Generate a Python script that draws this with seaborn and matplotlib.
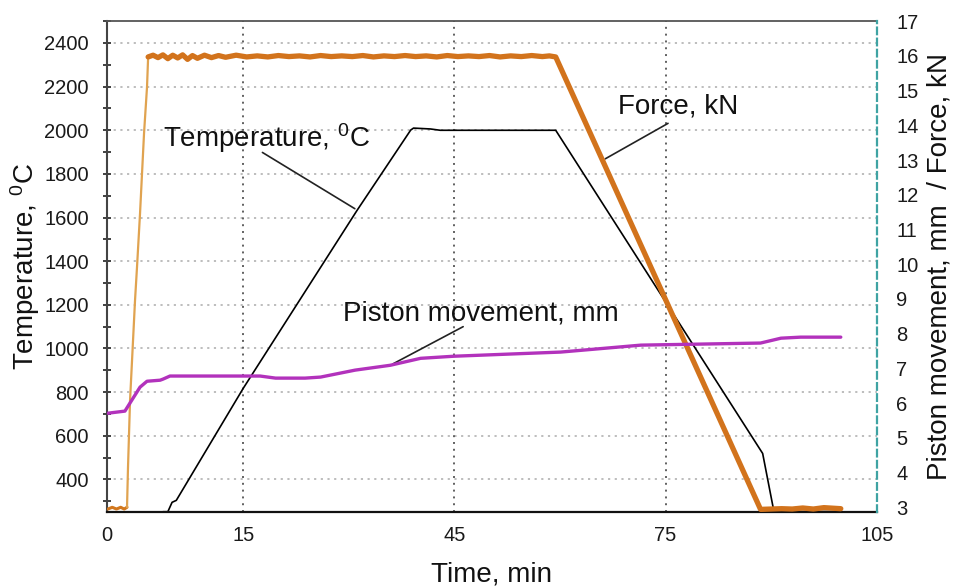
import matplotlib
matplotlib.use("Agg")
import matplotlib.pyplot as plt
from matplotlib.ticker import MultipleLocator
import seaborn as sns
import pandas as pd

# ---------------- data ----------------
# Temperature, degC (left axis)
temp_t = [3.6, 4.3, 4.9, 5.5, 15.0, 31.2, 38.8, 39.2, 41.6, 43.0, 59.4, 88.8, 90.4, 99.9]
temp_v = [252, 252, 295, 304, 817, 1634, 2001, 2010, 2006, 2000, 2000, 519, 253, 253]

# Force, kN (right axis)
force_start_t = [-4.2, -3.6, -3.0, -2.4, -1.9, -1.5]
force_start_v = [2.95, 3.0, 2.95, 3.0, 2.95, 3.0]
force_rise_t = [-1.5, -1.36, -1.07, -0.36, -0.08, 0.35, 0.92, 1.34, 1.5]
force_rise_v = [3.0, 4.15, 6.08, 8.97, 9.92, 11.47, 13.78, 15.1, 15.97]
force_main_t = [1.5, 2.2, 2.9, 3.6, 4.3, 5.0, 5.7, 6.4, 7.1, 7.8, 8.5, 9.5, 10.5, 11.5,
                12.5, 14.0, 15.5, 17.0, 18.5, 20.0, 21.5, 23.0, 24.5, 26.0, 27.5, 29.0,
                30.5, 32.0, 33.5, 35.0, 36.5, 38.0, 39.5, 41.0, 42.5, 44.0, 45.5, 47.0,
                48.5, 50.0, 51.5, 53.0, 54.5, 56.0, 57.5, 58.5, 59.4,
                88.5, 90.0, 91.5, 93.0, 94.5, 96.0, 97.5, 99.9]
force_main_v = [15.97, 16.02, 15.95, 16.03, 15.92, 16.02, 15.94, 16.03, 15.9, 16.01, 15.93,
                16.02, 15.95, 16.01, 15.96, 16.02, 15.97, 16.0, 15.97, 16.01, 15.98, 16.0,
                15.97, 16.01, 15.98, 16.0, 15.98, 16.01, 15.97, 16.0, 15.98, 16.01, 15.98,
                16.0, 15.97, 16.01, 15.98, 16.0, 15.98, 16.01, 15.97, 16.0, 15.98, 16.01,
                15.98, 16.0, 15.97,
                2.94, 2.95, 2.96, 2.95, 2.98, 2.95, 2.99, 2.96]

# Piston movement, mm (right axis)
piston_t = [-4.2, -1.8, -0.65, 0.35, 1.34, 3.2, 3.6, 4.6, 17.4, 19.6, 23.8, 26.0, 30.9,
            35.9, 40.2, 44.9, 60.1, 71.5, 88.5, 91.4, 94.2, 99.9]
piston_v = [5.71, 5.77, 6.14, 6.46, 6.63, 6.66, 6.69, 6.78, 6.78, 6.72, 6.72, 6.75, 6.95,
            7.09, 7.29, 7.35, 7.47, 7.67, 7.73, 7.87, 7.90, 7.90]

x_tick_labels = ["0", "15", "45", "75", "105"]
left_ticks = [400, 600, 800, 1000, 1200, 1400, 1600, 1800, 2000, 2200, 2400]
right_ticks = list(range(3, 18))

# ---------------- style ----------------
sns.set_theme(style="white")
plt.rcParams["font.family"] = ["Liberation Sans", "DejaVu Sans"]
plt.rcParams["mathtext.fontset"] = "custom"
plt.rcParams["mathtext.rm"] = "Liberation Sans"
plt.rcParams["mathtext.it"] = "Liberation Sans:italic"

fig = plt.figure(figsize=(9.55, 5.88), dpi=100)
ax = fig.add_axes([0.112, 0.129, 0.806, 0.835])
ax2 = ax.twinx()

x_left = -4.35
ax.set_xlim(x_left, 105)
ax.set_ylim(250, 2500)
ax2.set_ylim(2.86, 17.0)

# grid
for y in left_ticks:
    ax.axhline(y, color="#b8b8b8", linestyle=(0, (1.2, 2.5)), linewidth=1.3, zorder=0)
for x in [15, 45, 75]:
    ax.axvline(x, color="#606060", linestyle=(0, (1, 2.5)), linewidth=1.4, zorder=0)

# lines
temp_df = pd.DataFrame({"t": temp_t, "v": temp_v})
sns.lineplot(data=temp_df, x="t", y="v", ax=ax, color="black", linewidth=1.2,
             sort=False, estimator=None)

sns.lineplot(x=force_start_t, y=force_start_v, ax=ax2, color="#d2781e", linewidth=2.2,
             sort=False, estimator=None)
sns.lineplot(x=force_rise_t, y=force_rise_v, ax=ax2, color="#e0a350", linewidth=1.6,
             sort=False, estimator=None)
sns.lineplot(x=force_main_t, y=force_main_v, ax=ax2, color="#d2731c", linewidth=3.8,
             sort=False, estimator=None)
sns.lineplot(x=piston_t, y=piston_v, ax=ax2, color="#b232bc", linewidth=2.4,
             sort=False, estimator=None)

# ticks
ax.set_xticks([x_left, 15, 45, 75, 105])
ax.set_xticklabels(x_tick_labels)
ax.set_yticks(left_ticks)
ax.yaxis.set_minor_locator(MultipleLocator(100))
ax.tick_params(axis="x", length=0, pad=10, labelsize=14.5, colors="#1a1a1a")
ax.tick_params(axis="y", which="both", direction="inout", length=6, width=1.3,
               color="#333333", pad=10, labelsize=14.5, labelcolor="#1a1a1a", left=True)
ax2.set_yticks(right_ticks)
ax2.tick_params(axis="y", length=0, pad=14, labelsize=14.5, labelcolor="#1a1a1a")

ax.set_xlabel("Time, min", fontsize=20, labelpad=12, color="#111111")
ax.set_ylabel(r"Temperature, $^{\mathrm{0}}$C", fontsize=20, labelpad=1.5, color="#111111")
ax2.set_ylabel("Piston movement, mm  / Force, kN", fontsize=20, labelpad=6, color="#111111")

# spines
for a in (ax, ax2):
    for s in a.spines.values():
        s.set_visible(False)
ax.spines["left"].set_visible(True)
ax.spines["left"].set_color("#444444")
ax.spines["left"].set_linewidth(1.5)
ax.spines["bottom"].set_visible(True)
ax.spines["bottom"].set_color("#111111")
ax.spines["bottom"].set_linewidth(1.6)
ax.spines["top"].set_visible(True)
ax.spines["top"].set_color("#555555")
ax.spines["top"].set_linewidth(1.3)
ax2.spines["right"].set_visible(True)
ax2.spines["right"].set_color("#3fa3a3")
ax2.spines["right"].set_linestyle((0, (3, 2)))
ax2.spines["right"].set_linewidth(1.6)

# annotations
ax.text(3.6, 1923, r"Temperature, $^{\mathrm{0}}$C", fontsize=20, ha="left", va="baseline",
        color="#111111")
ax.annotate("", xy=(31.2, 1634), xytext=(17.4, 1905),
            arrowprops=dict(arrowstyle="-", color="#222222", lw=1.2))
ax.text(68.3, 2079, "Force, kN", fontsize=20, ha="left", va="baseline", color="#111111")
ax.annotate("", xy=(66.1, 1863), xytext=(75.7, 2038),
            arrowprops=dict(arrowstyle="-", color="#222222", lw=1.2))
ax.text(29.2, 1129, "Piston movement, mm", fontsize=20, ha="left", va="baseline",
        color="#111111")
ax.annotate("", xy=(35.9, 923), xytext=(46.6, 1106),
            arrowprops=dict(arrowstyle="-", color="#222222", lw=1.2))

fig.savefig("out.png", dpi=100)
